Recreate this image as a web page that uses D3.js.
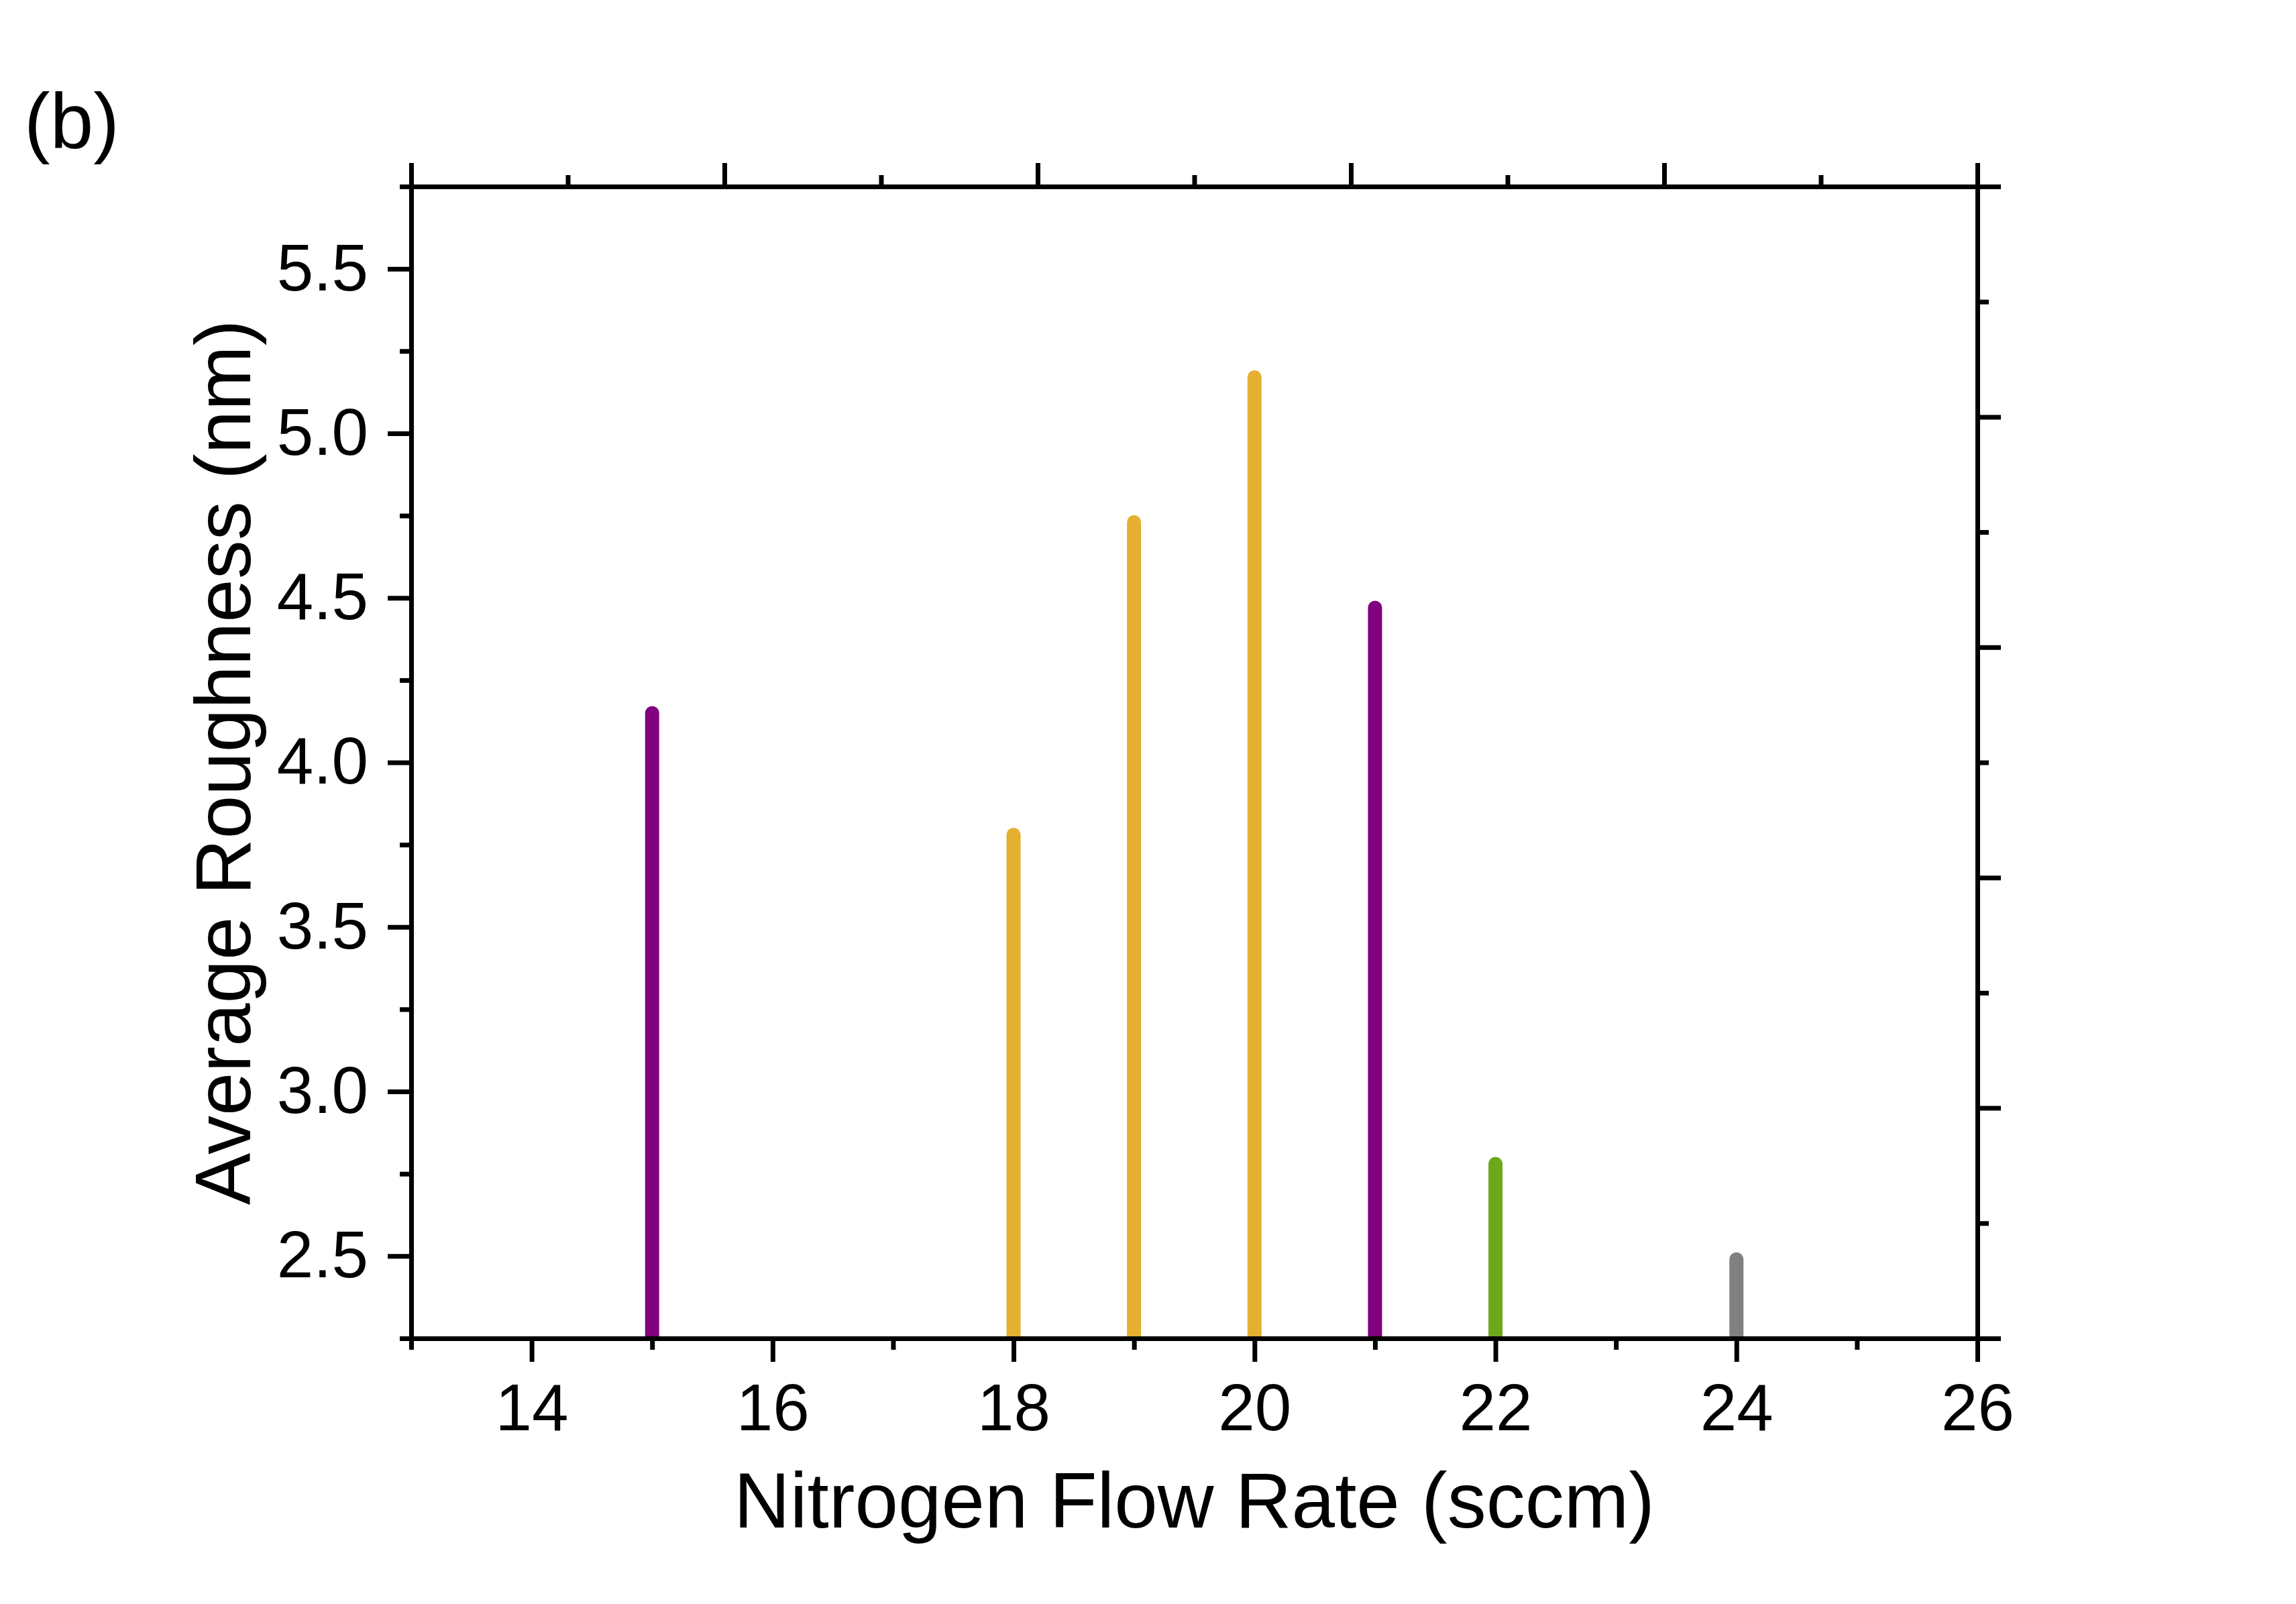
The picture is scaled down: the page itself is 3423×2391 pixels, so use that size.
<!DOCTYPE html>
<html>
<head>
<meta charset="utf-8">
<script src="https://cdn.jsdelivr.net/npm/d3@7"></script>
<style>
  html, body { margin: 0; padding: 0; background: #ffffff; }
  svg { display: block; }
</style>
</head>
<body>
<script>
// ---------------- data ----------------
const flowRates = [15, 18, 19, 20, 21, 22, 24];
const roughness = [4.15, 3.78, 4.73, 5.17, 4.47, 2.78, 2.49];
const sampleGroup = ["g1", "g2", "g2", "g2", "g1", "g3", "g4"];
const groupColors = ["#800080", "#E5AF2F", "#6CA91A", "#808080"];
const xMajorTicks = [14, 16, 18, 20, 22, 24, 26];
const xMinorTicks = [13, 15, 17, 19, 21, 23, 25];
const yMajorTicks = [2.5, 3.0, 3.5, 4.0, 4.5, 5.0, 5.5];
const yMinorTicks = [2.25, 2.75, 3.25, 3.75, 4.25, 4.75, 5.25, 5.75];
const xDomain = [13, 26];
const yDomain = [2.25, 5.75];
const xTitle = "Nitrogen Flow Rate (sccm)";
const yTitle = "Average Roughness (nm)";
const panelLabel = "(b)";

// ---------------- layout ----------------
const W = 3423, H = 2391;
const L = 613, R = 2948, T = 278, B = 1995;
const FONT = "'Liberation Sans', Arial, Helvetica, sans-serif";
const AXIS_W = 7;
const MAJOR = 35, MINOR = 17;

const svg = d3.select("body").append("svg")
  .attr("width", W).attr("height", H)
  .attr("viewBox", `0 0 ${W} ${H}`);
svg.append("rect").attr("width", W).attr("height", H).attr("fill", "#fff");

const x = d3.scaleLinear().domain(xDomain).range([L, R]);
const y = d3.scaleLinear().domain(yDomain).range([B, T]);
const topScale = d3.scaleLinear().domain([0, 10]).range([L, R]);
const rightScale = d3.scaleLinear().domain([0, 10]).range([B, T]);
const color = d3.scaleOrdinal().domain(["g1", "g2", "g3", "g4"]).range(groupColors);

// clip for drop lines (flat bottom at axis)
svg.append("clipPath").attr("id", "plotClip")
  .append("rect").attr("x", L).attr("y", 0).attr("width", R - L).attr("height", B);

const data = flowRates.map((f, i) => ({ f, v: roughness[i], g: sampleGroup[i] }));

svg.append("g").attr("clip-path", "url(#plotClip)")
  .selectAll("line").data(data).join("line")
  .attr("x1", d => x(d.f)).attr("x2", d => x(d.f))
  .attr("y1", d => y(d.v)).attr("y2", B + 20)
  .attr("stroke", d => color(d.g))
  .attr("stroke-width", 21)
  .attr("stroke-linecap", "round");

// ---------------- axes ----------------
function styleAxis(g, showDomain) {
  g.selectAll(".tick line").attr("stroke", "#000").attr("stroke-width", AXIS_W);
  g.select(".domain").attr("stroke", showDomain ? "#000" : "none")
    .attr("stroke-width", AXIS_W).attr("stroke-linecap", "square");
  g.selectAll(".tick text").attr("fill", "#000");
  g.attr("font-family", FONT);
}

// bottom
const gBottomMinor = svg.append("g").attr("transform", `translate(0,${B})`)
  .call(d3.axisBottom(x).tickValues(xMinorTicks).tickSize(MINOR).tickSizeOuter(0).tickFormat(""));
styleAxis(gBottomMinor, false);
const gBottom = svg.append("g").attr("transform", `translate(0,${B})`)
  .call(d3.axisBottom(x).tickValues(xMajorTicks).tickSize(MAJOR).tickSizeOuter(0).tickPadding(32).tickFormat(d3.format("d")));
styleAxis(gBottom, true);
gBottom.selectAll(".tick text").attr("font-size", 98);

// left
const gLeftMinor = svg.append("g").attr("transform", `translate(${L},0)`)
  .call(d3.axisLeft(y).tickValues(yMinorTicks).tickSize(MINOR).tickSizeOuter(0).tickFormat(""));
styleAxis(gLeftMinor, false);
const gLeft = svg.append("g").attr("transform", `translate(${L},0)`)
  .call(d3.axisLeft(y).tickValues(yMajorTicks).tickSize(MAJOR).tickSizeOuter(0).tickPadding(29).tickFormat(d3.format(".1f")));
styleAxis(gLeft, true);
gLeft.selectAll(".tick text").attr("font-size", 98);

// top (independent, 10 divisions)
const topMinor = d3.range(1, 10, 2);
const topMajor = d3.range(0, 11, 2);
const gTopMinor = svg.append("g").attr("transform", `translate(0,${T})`)
  .call(d3.axisTop(topScale).tickValues(topMinor).tickSize(MINOR).tickSizeOuter(0).tickFormat(""));
styleAxis(gTopMinor, false);
const gTop = svg.append("g").attr("transform", `translate(0,${T})`)
  .call(d3.axisTop(topScale).tickValues(topMajor).tickSize(MAJOR).tickSizeOuter(0).tickFormat(""));
styleAxis(gTop, true);

// right (independent, 10 divisions)
const gRightMinor = svg.append("g").attr("transform", `translate(${R},0)`)
  .call(d3.axisRight(rightScale).tickValues(topMinor).tickSize(MINOR).tickSizeOuter(0).tickFormat(""));
styleAxis(gRightMinor, false);
const gRight = svg.append("g").attr("transform", `translate(${R},0)`)
  .call(d3.axisRight(rightScale).tickValues(topMajor).tickSize(MAJOR).tickSizeOuter(0).tickFormat(""));
styleAxis(gRight, true);

// ---------------- titles ----------------
svg.append("text")
  .attr("x", (L + R) / 2).attr("y", 2277)
  .attr("text-anchor", "middle")
  .attr("font-family", FONT).attr("font-size", 116).attr("fill", "#000")
  .text(xTitle);

svg.append("text")
  .attr("transform", `translate(373,${(T + B) / 2}) rotate(-90)`)
  .attr("text-anchor", "middle")
  .attr("font-family", FONT).attr("font-size", 116).attr("fill", "#000")
  .text(yTitle);

svg.append("text")
  .attr("x", 36).attr("y", 221)
  .attr("font-family", FONT).attr("font-size", 116).attr("fill", "#000")
  .text(panelLabel);
</script>
</body>
</html>
